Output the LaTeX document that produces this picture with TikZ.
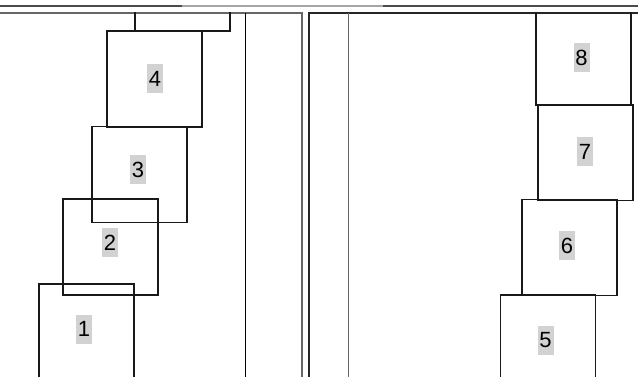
\documentclass[tikz,border=0pt]{standalone}
\usepackage{fontspec}
\setmainfont{Liberation Sans}
\usepackage{tikz}
\usetikzlibrary{positioning}
\newcommand{\lblfont}{\fontsize{22}{26}\selectfont}
\tikzset{blk/.style={draw=black!90,line width=1.2pt,minimum width=95pt,minimum height=96pt,inner sep=0pt},
         lbl/.style={fill=gray!35,minimum width=16pt,minimum height=29pt,inner sep=0pt,font=\lblfont}}
\begin{document}
\begin{tikzpicture}[x=1pt,y=-1pt]
 \useasboundingbox (0,0) rectangle (638,377);
 \draw[black!70,line width=2pt] (0,6) -- (182,6); \draw[gray!70,line width=2pt] (182,6) -- (383,6);
 \draw[black!70,line width=2pt] (383,6) -- (638,6);
 \draw[gray!80!black,line width=1.2pt] (0,13) -- (302,13) -- (302,377);
 \draw[black!85,line width=1.2pt] (638,13) -- (309,13) -- (309,377);
 \draw[black,line width=1pt] (245,13) -- (245,377);
 \draw[gray!80!black,line width=1pt] (348,13) -- (348,377);
 \begin{scope}
  \clip (0,13) rectangle (638,377);
  \node[blk] (b0) at (182.5,-17) {};
  \node[blk] (b4) at (154.5,79) {}; \node[lbl] (l4) at (155,78.5) {4};
  \node[blk] (b3) at (139.5,174.5) {}; \node[lbl] (l3) at (138,170) {3};
  \node[blk] (b2) at (110.5,247) {}; \node[lbl] (l2) at (110,243) {2};
  \node[blk] (b1) at (86.5,332) {}; \node[lbl] (l1) at (84,329) {1};
  \node[blk] (b8) at (583.5,57) {}; \node[lbl] (l8) at (581.5,58) {8};
  \node[blk] (b7) at (585.5,152.5) {}; \node[lbl] (l7) at (585,152) {7};
  \node[blk] (b6) at (569.5,247.5) {}; \node[lbl] (l6) at (567,246) {6};
  \node[blk] (b5) at (548,343) {}; \node[lbl] (l5) at (545.5,340.5) {5};
 \end{scope}
\end{tikzpicture}
\end{document}
